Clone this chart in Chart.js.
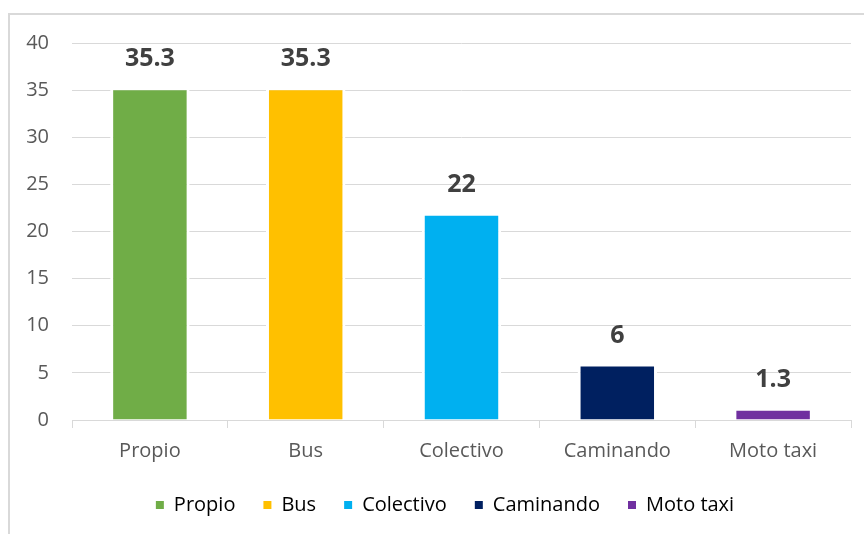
<!DOCTYPE html>
<html>
<head>
<meta charset="utf-8">
<script src="https://cdn.jsdelivr.net/npm/chart.js@4"></script>
<style>
    html, body { margin: 0; padding: 0; background: #fff; overflow: hidden; }
    #frame { position: absolute; left: 8px; top: 13px; width: 900px; height: 600px; border: 2px solid #d9d9d9; }
    #wrap { position: absolute; left: 0; top: 0; width: 900px; height: 560px; }
</style>
</head>
<body>
<div id="frame"></div>
<div id="wrap"><canvas id="chart" width="900" height="560"></canvas></div>
<script>
// ------- DATA -------
const categories = ["Propio", "Bus", "Colectivo", "Caminando", "Moto taxi"];
const values = [35.3, 35.3, 22, 6, 1.3];
const valueLabels = ["35.3", "35.3", "22", "6", "1.3"];
const barColors = ["#70ad47", "#ffc000", "#00b0f0", "#002060", "#7030a0"];
const yTicks = [0, 5, 10, 15, 20, 25, 30, 35, 40];

const FONT = "'Open Sans', 'DejaVu Sans', sans-serif";

// ------- VALUE LABELS ABOVE BARS -------
const valueLabelPlugin = {
    id: "valueLabels",
    afterDatasetsDraw(chart) {
        const ctx = chart.ctx;
        const meta = chart.getDatasetMeta(0);
        ctx.save();
        ctx.font = "bold 25px " + FONT;
        ctx.fillStyle = "#404040";
        ctx.textAlign = "center";
        ctx.textBaseline = "middle";
        meta.data.forEach((bar, i) => {
            ctx.fillText(valueLabels[i], bar.x, bar.y - 28);
        });
        ctx.restore();
    }
};

// legend is centred on the whole frame, not only the plot width
const legendCenterPlugin = {
    id: "legendCenter",
    afterLayout(chart) {
        if (!chart.legend) return;
        chart.legend.right = chart.width - 10;
        chart.legend.width = chart.legend.right - chart.legend.left;
    }
};

new Chart(document.getElementById("chart"), {
    type: "bar",
    data: {
        labels: categories,
        datasets: [{
            data: values,
            backgroundColor: barColors,
            borderColor: "#ffffff",
            borderWidth: { top: 3, left: 3, right: 3, bottom: 0 },
            borderSkipped: "start",
            barPercentage: 0.51,
            categoryPercentage: 1
        }]
    },
    options: {
        responsive: false,
        animation: false,
        layout: { padding: { left: 0, right: 49, top: 43, bottom: 35 } },
        plugins: {
            tooltip: { enabled: false },
            legend: {
                position: "bottom",
                labels: {
                    boxWidth: 8,
                    boxHeight: 8,
                    padding: 28,
                    color: "#595959",
                    font: { family: FONT, size: 20 },
                    generateLabels: () => categories.map((c, i) => ({
                        text: c,
                        fillStyle: barColors[i],
                        strokeStyle: barColors[i],
                        lineWidth: 0,
                        index: i,
                        datasetIndex: 0
                    }))
                }
            }
        },
        scales: {
            x: {
                grid: {
                    display: true,
                    drawOnChartArea: false,
                    drawTicks: true,
                    tickLength: 8,
                    color: "#d9d9d9"
                },
                border: { color: "#d9d9d9", width: 1 },
                ticks: {
                    color: "#595959",
                    font: { family: FONT, size: 20 },
                    padding: 11
                },
                afterFit: (scale) => { scale.height = 47; }
            },
            y: {
                min: 0,
                max: 40,
                afterBuildTicks: (scale) => { scale.ticks = yTicks.map(v => ({ value: v })); },
                grid: { color: "#d9d9d9", lineWidth: 1, drawTicks: false },
                border: { display: false },
                ticks: {
                    color: "#595959",
                    font: { family: FONT, size: 20 },
                    padding: 23
                },
                afterFit: (scale) => { scale.width = 72; }
            }
        }
    },
    plugins: [valueLabelPlugin, legendCenterPlugin]
});
</script>
</body>
</html>
